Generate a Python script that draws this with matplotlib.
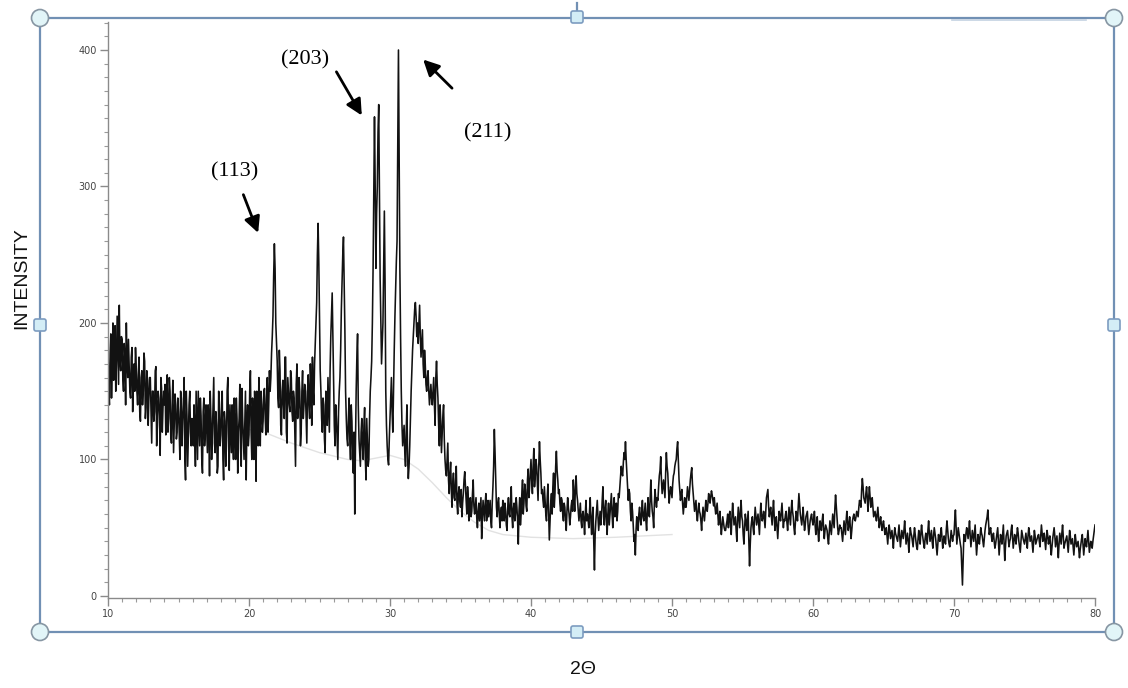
import numpy as np
import matplotlib
matplotlib.use("Agg")
import matplotlib.pyplot as plt
from matplotlib.patches import Circle, FancyBboxPatch

# XRD pattern: counts at 10.0, 10.1, ... 80.0 deg
intensity = [
    185, 140, 192, 170, 158, 198, 172, 180, 213, 165,   # 10
    188, 150, 176, 200, 160, 170, 145, 182, 162, 150,   # 11
    168, 140, 175, 128, 165, 150, 172, 138, 158, 145,   # 12
    160, 112, 150, 135, 168, 125, 145, 103, 152, 138,   # 13
    140, 118, 162, 130, 150, 112, 158, 125, 140, 120,   # 14
    135, 100, 145, 128, 160, 85, 132, 118, 150, 110,    # 15
    128, 140, 95, 125, 150, 110, 132, 90, 145, 120,     # 16
    122, 140, 88, 130, 118, 160, 105, 125, 95, 135,     # 17
    118, 150, 85, 128, 110, 160, 92, 122, 140, 100,     # 18
    120, 145, 90, 130, 108, 152, 115, 126, 85, 140,     # 19
    118, 165, 100, 132, 150, 84, 128, 160, 110, 140,    # 20
    128, 152, 118, 160, 140, 150, 178, 205, 258, 200,   # 21
    172, 138, 165, 118, 158, 130, 175, 112, 150, 135,   # 22
    160, 128, 145, 95, 170, 138, 150, 120, 165, 140,    # 23
    150, 112, 162, 130, 155, 175, 140, 185, 215, 273,   # 24
    205, 150, 120, 140, 105, 135, 160, 120, 190, 222,   # 25
    160, 110, 130, 100, 150, 180, 230, 263, 195, 130,   # 26
    110, 145, 100, 128, 90, 60, 150, 192, 115, 95,      # 27
    130, 100, 138, 85, 112, 100, 150, 172, 240, 351,    # 28
    240, 300, 360, 233, 170, 200, 282, 150, 110, 96,    # 29
    130, 160, 120, 180, 225, 260, 400, 240, 150, 110,   # 30
    125, 95, 140, 86, 110, 150, 180, 200, 215, 190,     # 31
    185, 213, 175, 195, 160, 170, 150, 165, 140, 155,   # 32
    140, 160, 125, 172, 145, 110, 128, 118, 140, 100,   # 33
    88, 112, 75, 98, 65, 90, 70, 95, 60, 80,            # 34
    65, 58, 75, 91, 70, 80, 55, 72, 62, 85,             # 35
    60, 72, 50, 68, 64, 42, 70, 55, 75, 60,             # 36
    58, 70, 50, 80, 122, 85, 58, 72, 50, 65,            # 37
    70, 55, 62, 48, 72, 58, 80, 50, 68, 60,             # 38
    65, 38, 72, 60, 85, 68, 78, 62, 93, 80,             # 39
    100, 75, 108, 88, 95, 70, 113, 90, 78, 65,          # 40
    70, 55, 82, 41, 68, 60, 90, 75, 106, 85,            # 41
    78, 62, 70, 55, 65, 48, 72, 60, 58, 70,             # 42
    85, 62, 88, 70, 55, 68, 50, 62, 45, 70,             # 43
    60, 50, 72, 45, 65, 19, 55, 70, 48, 62,             # 44
    58, 80, 52, 70, 45, 68, 60, 75, 50, 72,             # 45
    62, 55, 75, 80, 95, 88, 105, 113, 90, 70,           # 46
    75, 55, 62, 40, 30, 58, 48, 65, 52, 70,             # 47
    55, 68, 48, 72, 58, 85, 62, 50, 78, 65,             # 48
    70, 88, 102, 75, 85, 72, 105, 90, 68, 80,           # 49
    72, 88, 95, 100, 113, 85, 70, 78, 60, 72,           # 50
    65, 80, 70, 85, 94, 75, 62, 70, 55, 68,             # 51
    60, 48, 65, 55, 70, 62, 75, 68, 77, 70,             # 52
    72, 60, 68, 52, 62, 45, 58, 50, 48, 55,             # 53
    50, 62, 45, 68, 52, 58, 40, 65, 50, 70,             # 54
    55, 38, 60, 48, 62, 22, 50, 58, 45, 65,             # 55
    52, 60, 45, 68, 55, 62, 50, 72, 78, 58,             # 56
    65, 52, 70, 48, 58, 42, 62, 55, 68, 50,             # 57
    55, 62, 48, 65, 52, 70, 58, 45, 62, 55,             # 58
    75, 60, 52, 65, 48, 58, 62, 45, 55, 60,             # 59
    52, 62, 45, 58, 40, 55, 48, 60, 42, 52,             # 60
    48, 38, 55, 45, 60, 50, 74, 58, 45, 52,             # 61
    50, 40, 55, 45, 62, 48, 58, 42, 55, 60,             # 62
    55, 62, 58, 70, 65, 86, 72, 68, 80, 62,             # 63
    80, 65, 72, 58, 62, 55, 65, 50, 58, 48,             # 64
    55, 45, 50, 38, 52, 42, 48, 35, 50, 44,             # 65
    40, 52, 36, 48, 42, 55, 38, 46, 32, 50,             # 66
    44, 36, 50, 40, 34, 48, 38, 52, 42, 35,             # 67
    46, 38, 55, 40, 48, 35, 50, 42, 30, 45,             # 68
    40, 50, 35, 44, 38, 55, 42, 36, 48, 40,             # 69
    45, 63, 38, 50, 42, 35, 8, 45, 40, 50,              # 70
    42, 55, 36, 48, 40, 52, 30, 45, 38, 50,             # 71
    44, 36, 48, 55, 63, 45, 50, 40, 46, 35,             # 72
    42, 50, 30, 45, 38, 52, 26, 44, 48, 36,             # 73
    42, 52, 35, 45, 38, 50, 40, 32, 48, 42,             # 74
    38, 46, 35, 50, 40, 44, 32, 48, 38, 42,             # 75
    45, 36, 52, 40, 46, 34, 48, 38, 44, 30,             # 76
    42, 50, 36, 44, 28, 46, 38, 52, 35, 40,             # 77
    44, 32, 48, 38, 42, 30, 45, 36, 40, 28,             # 78
    38, 45, 30, 42, 36, 48, 32, 40, 35, 44,             # 79
    52,                                                 # 80
]
# counts at the half steps 10.05, 10.15, ... 79.95 deg
intensity_half = [
    150, 178, 145, 200, 165, 150, 205, 155, 172, 190,   # 10
    160, 185, 140, 172, 188, 150, 175, 135, 170, 182,   # 11
    150, 162, 135, 160, 140, 178, 130, 165, 125, 160,   # 12
    135, 150, 128, 165, 110, 150, 132, 160, 120, 150,   # 13
    155, 130, 120, 160, 118, 140, 105, 148, 115, 145,   # 14
    120, 150, 110, 140, 100, 150, 95, 140, 120, 130,    # 15
    110, 120, 150, 100, 130, 145, 100, 135, 110, 140,   # 16
    105, 130, 150, 100, 140, 112, 135, 90, 150, 110,    # 17
    140, 100, 135, 95, 150, 120, 140, 105, 115, 145,    # 18
    100, 130, 120, 155, 95, 130, 100, 150, 125, 110,    # 19
    150, 120, 145, 100, 130, 150, 110, 120, 150, 120,   # 20
    150, 130, 145, 120, 165, 160, 190, 235, 240, 185,   # 21
    145, 180, 125, 150, 140, 175, 120, 160, 140, 165,   # 22
    135, 150, 120, 155, 130, 160, 110, 150, 130, 155,   # 23
    130, 150, 140, 170, 125, 150, 170, 200, 250, 245,   # 24
    165, 130, 145, 115, 150, 125, 140, 165, 205, 190,   # 25
    125, 140, 115, 135, 160, 210, 250, 230, 150, 115,   # 26
    130, 115, 140, 100, 120, 110, 175, 140, 105, 120,   # 27
    110, 125, 100, 130, 95, 130, 160, 200, 300, 300,    # 28
    280, 340, 300, 200, 185, 240, 230, 125, 100, 115,   # 29
    145, 135, 150, 205, 245, 330, 320, 190, 125, 118,   # 30
    105, 120, 100, 95, 130, 165, 190, 210, 205, 200,    # 31
    200, 190, 185, 170, 180, 155, 160, 150, 148, 145,   # 32
    150, 140, 160, 155, 125, 140, 105, 132, 115, 92,    # 33
    100, 85, 90, 78, 82, 72, 85, 68, 75, 70,            # 34
    78, 68, 85, 80, 60, 72, 68, 58, 75, 66,             # 35
    66, 58, 62, 55, 72, 58, 62, 68, 55, 70,             # 36
    64, 55, 68, 95, 105, 65, 68, 60, 60, 55,            # 37
    60, 68, 52, 65, 60, 70, 58, 64, 55, 72,             # 38
    55, 62, 52, 75, 60, 82, 66, 85, 72, 90,             # 39
    85, 95, 80, 100, 82, 95, 100, 75, 70, 80,           # 40
    60, 72, 60, 55, 75, 80, 65, 95, 92, 75,             # 41
    68, 72, 60, 68, 55, 62, 65, 52, 66, 62,             # 42
    72, 80, 75, 62, 62, 55, 60, 55, 60, 55,             # 43
    56, 62, 55, 58, 40, 45, 62, 58, 55, 52,             # 44
    70, 62, 64, 55, 60, 52, 68, 60, 65, 58,             # 45
    68, 62, 72, 88, 90, 98, 100, 100, 80, 78,           # 46
    62, 68, 52, 45, 48, 50, 60, 56, 62, 58,             # 47
    62, 55, 62, 60, 72, 70, 58, 68, 70, 72,             # 48
    80, 92, 85, 80, 78, 90, 95, 78, 75, 76,             # 49
    82, 90, 98, 108, 98, 78, 75, 68, 66, 65,            # 50
    72, 75, 78, 90, 82, 68, 66, 60, 62, 62,             # 51
    55, 58, 60, 62, 65, 68, 70, 73, 74, 66,             # 52
    65, 64, 60, 58, 52, 52, 54, 48, 52, 60,             # 53
    58, 52, 58, 60, 55, 48, 55, 58, 62, 58,             # 54
    45, 50, 55, 55, 40, 38, 55, 50, 56, 58,             # 55
    56, 52, 58, 60, 58, 56, 62, 75, 66, 62,             # 56
    58, 62, 58, 54, 50, 52, 58, 62, 58, 56,             # 57
    60, 54, 56, 58, 62, 62, 50, 54, 60, 65,             # 58
    68, 56, 58, 55, 52, 60, 52, 50, 58, 55,             # 59
    56, 52, 50, 48, 48, 52, 55, 50, 48, 50,             # 60
    42, 46, 50, 52, 55, 64, 66, 50, 48, 50,             # 61
    45, 48, 50, 55, 55, 52, 50, 48, 58, 56,             # 62
    58, 60, 65, 68, 78, 80, 70, 75, 72, 72,             # 63
    72, 68, 65, 60, 58, 60, 58, 55, 52, 52,             # 64
    50, 48, 44, 46, 48, 45, 42, 44, 46, 42,             # 65
    46, 44, 42, 45, 48, 46, 42, 40, 42, 46,             # 66
    40, 44, 45, 36, 42, 42, 46, 46, 38, 42,             # 67
    42, 48, 46, 44, 40, 44, 46, 36, 38, 42,             # 68
    46, 42, 40, 40, 48, 48, 38, 42, 44, 44,             # 69
    55, 50, 44, 46, 38, 22, 28, 42, 46, 46,             # 70
    48, 44, 42, 44, 46, 40, 38, 42, 44, 46,             # 71
    40, 42, 52, 58, 54, 48, 44, 44, 40, 38,             # 72
    46, 40, 38, 42, 45, 38, 36, 46, 42, 40,             # 73
    48, 44, 40, 42, 44, 46, 36, 40, 45, 40,             # 74
    42, 40, 44, 46, 42, 38, 40, 44, 40, 44,             # 75
    40, 44, 46, 44, 40, 42, 44, 42, 36, 36,             # 76
    46, 44, 40, 36, 38, 42, 46, 44, 38, 42,             # 77
    38, 40, 44, 40, 36, 38, 40, 38, 34, 34,             # 78
    42, 38, 36, 38, 42, 40, 36, 38, 40, 48,             # 79
]

# merge the two sets of readings into one scan
x_full = np.arange(len(intensity)) / 10 + 10
x_half = np.arange(len(intensity_half)) / 10 + 10.05
two_theta = np.concatenate([x_full, x_half])
counts = np.concatenate([intensity, intensity_half])
order = np.argsort(two_theta)
two_theta, counts = two_theta[order], counts[order]

# faint fitted background curve
bg_x = [20, 21.3, 23, 25, 27, 28, 29, 30, 31, 32, 33, 34, 35, 36, 37, 38, 40, 43, 46, 48, 50]
bg_y = [122, 119, 112, 105, 100, 99, 101, 103, 100, 93, 83, 72, 62, 54, 48, 45, 43, 42, 43, 44, 45]

# peak labels: text, text position, arrow start, arrow tip
peak_labels = ["(113)", "(203)", "(211)"]
label_xy = [(19.0, 311), (24.0, 393), (36.95, 339)]
arrow_from = [(19.6, 294), (26.2, 384), (34.4, 372)]
arrow_to = [(20.65, 266), (28.0, 352), (32.35, 393)]

W, H = 1128, 688
fig = plt.figure(figsize=(W / 100, H / 100), dpi=100)
fig.patch.set_facecolor("white")

ax = fig.add_axes([108 / W, (H - 598) / H, 987 / W, 576 / H])
ax.plot(bg_x, bg_y, color="#e2e2e2", lw=1.0, zorder=1)
ax.plot(two_theta, counts, color="#121212", lw=1.15, zorder=2)
ax.set_xlim(10, 80)
ax.set_ylim(-1.5, 420.5)
for s in ["top", "right"]:
    ax.spines[s].set_visible(False)
for s in ["left", "bottom"]:
    ax.spines[s].set_color("#8a8a8a")
    ax.spines[s].set_linewidth(1.0)
ax.set_xticks(range(10, 81, 10))
ax.set_xticks(range(10, 81, 1), minor=True)
ax.set_yticks(range(0, 401, 100))
ax.set_yticks(range(0, 421, 10), minor=True)
ax.tick_params(which="major", length=6, width=1, color="#8a8a8a", labelsize=7,
               labelcolor="#444444", pad=2)
ax.tick_params(which="minor", length=3, width=0.8, color="#9a9a9a")

for lab, txy, a0, a1 in zip(peak_labels, label_xy, arrow_from, arrow_to):
    ax.text(txy[0], txy[1], lab, family="Liberation Serif", fontsize=16,
            ha="center", va="center")
    ax.annotate("", xy=a1, xytext=a0,
                arrowprops=dict(arrowstyle="-|>", color="black", lw=2,
                                mutation_scale=24, shrinkA=0, shrinkB=0))

fig.text(22 / W, 1 - 278 / H, "INTENSITY", rotation=90, ha="center", va="center",
         family="Liberation Sans", fontsize=14, color="#111111")
fig.text(583 / W, 1 - 670 / H, "2\u0398", ha="center", va="center",
         family="Liberation Sans", fontsize=14, color="#111111")

# selection frame drawn over the picture
ov = fig.add_axes([0, 0, 1, 1], facecolor="none")
ov.set_xlim(0, W)
ov.set_ylim(H, 0)
ov.axis("off")
frame_c = "#7190b4"
ov.plot([40, 1114, 1114, 40, 40], [18, 18, 632, 632, 18], color=frame_c, lw=1.6)
ov.plot([952, 1086], [19.5, 19.5], color="#c4d2e2", lw=1.2)
ov.plot([577, 577], [3, 11], color=frame_c, lw=1.6)
for cx, cy in [(40, 18), (1114, 18), (40, 632), (1114, 632)]:
    ov.add_patch(Circle((cx, cy), 8.5, facecolor="#e2f5f8", edgecolor="#8796a3", lw=1.2, zorder=5))
for cx, cy in [(577, 17), (40, 325), (1114, 325), (577, 632)]:
    ov.add_patch(FancyBboxPatch((cx - 6, cy - 6), 12, 12, boxstyle="round,pad=0,rounding_size=2",
                                facecolor="#d3edf6", edgecolor="#7d9cc0", lw=1.2, zorder=5))

fig.savefig("out.png", dpi=100)
